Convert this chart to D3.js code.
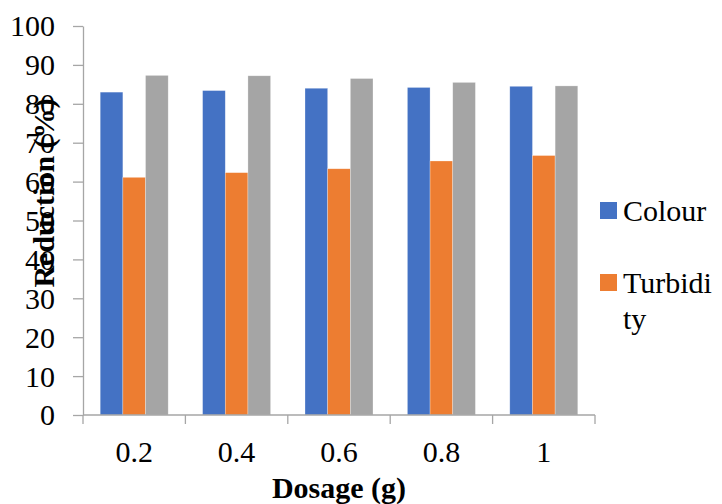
<!DOCTYPE html>
<html>
<head>
<meta charset="utf-8">
<script src="https://cdn.jsdelivr.net/npm/d3@7"></script>
<style>
  html, body { margin: 0; padding: 0; background: #fff; }
  svg { display: block; font-family: "Liberation Serif", "Times New Roman", serif; }
</style>
</head>
<body>
<svg id="chart" width="722" height="504"></svg>
<script>
// Dosage levels on the x axis
const dosages = ["0.2", "0.4", "0.6", "0.8", "1"];
// Reduction (%) per series
const colourValues = [83.0, 83.4, 84.0, 84.2, 84.5];
const turbidityValues = [61.1, 62.3, 63.3, 65.3, 66.7];
const thirdValues = [87.3, 87.2, 86.5, 85.5, 84.6];
const seriesNames = ["Colour", "Turbidity", "Series3"];
const seriesColors = ["#4472C4", "#ED7D31", "#A5A5A5"];
const yTicks = [0, 10, 20, 30, 40, 50, 60, 70, 80, 90, 100];

const series = [colourValues, turbidityValues, thirdValues];

const svg = d3.select("#chart");
const plotLeft = 83, plotRight = 595, plotTop = 26, plotBottom = 415;

const x0 = d3.scaleBand().domain(dosages).range([plotLeft, plotRight])
  .paddingInner(0.336).paddingOuter(0.168);
const x1 = d3.scaleBand().domain(d3.range(series.length)).range([0, x0.bandwidth()]).padding(0);
const y = d3.scaleLinear().domain([0, 100]).range([plotBottom, plotTop]);
const xBounds = d3.scaleBand().domain(dosages).range([plotLeft, plotRight]).padding(0);

const axisColor = "#a6a6a6";

// bars
const groups = svg.append("g").selectAll("g")
  .data(dosages)
  .join("g")
  .attr("transform", d => `translate(${x0(d)},0)`);

groups.selectAll("rect")
  .data((d, i) => series.map((s, k) => ({ k, v: s[i] })))
  .join("rect")
  .attr("x", d => x1(d.k))
  .attr("width", x1.bandwidth())
  .attr("y", d => y(d.v))
  .attr("height", d => y(0) - y(d.v))
  .attr("fill", d => seriesColors[d.k])
  .attr("stroke", "#ffffff")
  .attr("stroke-opacity", 0.45)
  .attr("stroke-width", 0.6);

// y axis
const yAxis = svg.append("g").attr("transform", `translate(${plotLeft},0)`)
  .call(d3.axisLeft(y).tickValues(yTicks).tickSize(10).tickPadding(18).tickSizeOuter(0));
yAxis.select(".domain").attr("stroke", axisColor).attr("stroke-width", 1.3);
yAxis.selectAll(".tick line").attr("stroke", axisColor).attr("stroke-width", 1.3);
yAxis.selectAll(".tick text")
  .attr("font-family", "Liberation Serif, Times New Roman, serif")
  .attr("font-size", 30).attr("fill", "#000").attr("dy", "0.33em");

// x axis: ticks sit on category boundaries, labels at category centres
const xAxisG = svg.append("g").attr("transform", `translate(0,${plotBottom})`);
xAxisG.append("line")
  .attr("x1", plotLeft).attr("x2", plotRight).attr("y1", 0).attr("y2", 0)
  .attr("stroke", axisColor).attr("stroke-width", 1.3);
const boundaries = dosages.map(d => xBounds(d)).concat([plotRight]);
xAxisG.selectAll("line.tick")
  .data(boundaries)
  .join("line")
  .attr("class", "tick")
  .attr("x1", d => d).attr("x2", d => d)
  .attr("y1", 0).attr("y2", 9)
  .attr("stroke", axisColor).attr("stroke-width", 1.3);
xAxisG.selectAll("text")
  .data(dosages)
  .join("text")
  .attr("x", d => x0(d) + x0.bandwidth() / 2)
  .attr("y", 47)
  .attr("text-anchor", "middle")
  .attr("font-size", 30)
  .attr("fill", "#000")
  .text(d => d);

// axis titles
svg.append("text")
  .attr("x", 339).attr("y", 498)
  .attr("text-anchor", "middle")
  .attr("font-size", 30).attr("font-weight", "bold")
  .text("Dosage (g)");

svg.append("text")
  .attr("transform", "translate(54,193) rotate(-90)")
  .attr("text-anchor", "middle")
  .attr("font-size", 30).attr("font-weight", "bold")
  .text("Reduction (%)");

// legend
const legendItems = [
  { name: seriesNames[0], lines: ["Colour"], color: seriesColors[0], y: 202 },
  { name: seriesNames[1], lines: ["Turbidi", "ty"], color: seriesColors[1], y: 274 }
];
const lg = svg.append("g").selectAll("g").data(legendItems).join("g");
lg.append("rect")
  .attr("x", 600).attr("y", d => d.y)
  .attr("width", 17).attr("height", 17)
  .attr("fill", d => d.color);
lg.append("text")
  .attr("x", 623).attr("y", d => d.y + 19)
  .attr("font-size", 30).attr("fill", "#000")
  .selectAll("tspan")
  .data(d => d.lines)
  .join("tspan")
  .attr("x", 623)
  .attr("dy", (d, i) => i === 0 ? 0 : 36)
  .text(d => d);
</script>
</body>
</html>
